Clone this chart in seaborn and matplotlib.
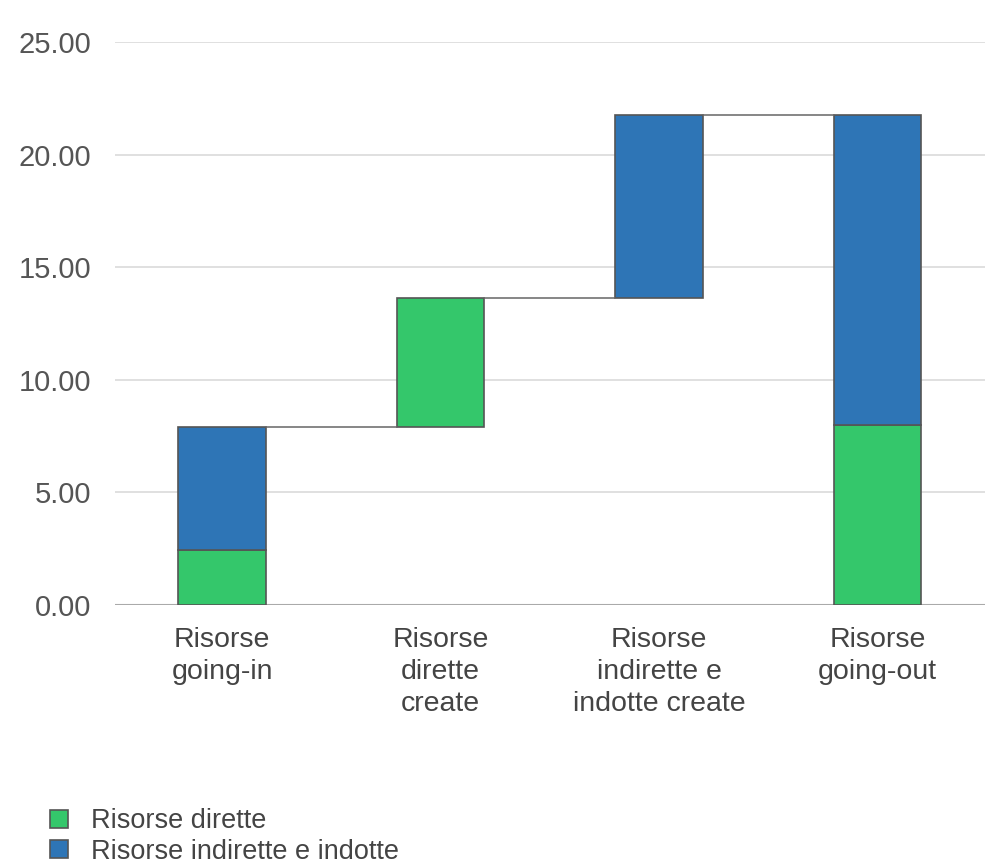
import numpy as np
import pandas as pd
import matplotlib.pyplot as plt
from matplotlib.patches import Patch
import seaborn as sns

# Categories and values
categories = ["Risorse\ngoing-in", "Risorse\ndirette\ncreate",
              "Risorse\nindirette e\nindotte create", "Risorse\ngoing-out"]
seg_category = [categories[0], categories[0], categories[1], categories[2], categories[3], categories[3]]
seg_type = ["Risorse dirette", "Risorse indirette e indotte", "Risorse dirette",
            "Risorse indirette e indotte", "Risorse dirette", "Risorse indirette e indotte"]
seg_start = [0.0, 2.45, 7.9, 13.65, 0.0, 8.0]
seg_end = [2.45, 7.9, 13.65, 21.75, 8.0, 21.75]
connector_levels = [7.9, 13.65, 21.75]
yticks = [0, 5, 10, 15, 20, 25]

colors = {"Risorse dirette": "#34c76b", "Risorse indirette e indotte": "#2e75b6"}

df = pd.DataFrame({"category": seg_category, "type": seg_type,
                   "start": seg_start, "end": seg_end})
df["value"] = df["end"] - df["start"]

sns.set_theme(style="white")
plt.rcParams["font.family"] = ["Liberation Sans", "DejaVu Sans"]

fig = plt.figure(figsize=(9.86, 8.66), dpi=100)
ax = fig.add_axes([0.1166, 0.3014, 0.882, 0.6501])

bar_w = 0.4
for t in colors:
    sub = df[df["type"] == t]
    sns.barplot(data=sub, x="category", y="value", order=categories,
                bottom=sub["start"].to_numpy(), color=colors[t], saturation=1,
                width=bar_w, edgecolor="#555555", linewidth=1.2, ax=ax, zorder=3)

# connectors between consecutive bars
for i, lvl in enumerate(connector_levels):
    ax.plot([i + bar_w / 2, i + 1 - bar_w / 2], [lvl, lvl], color="#666666", lw=1.1, zorder=3)

ax.set_xlim(-0.49, 3.49)
ax.set_ylim(0, 25)
ax.set_yticks(yticks)
ax.set_yticklabels([f"{v:.2f}" for v in yticks])
for v in yticks[1:]:
    ax.axhline(v, color="#dddddd", lw=1.3, zorder=1)
ax.axhline(0, color="#aaaaaa", lw=1.5, zorder=2)

for s in ax.spines.values():
    s.set_visible(False)
ax.set_xlabel("")
ax.set_ylabel("")
ax.tick_params(axis="y", length=0, pad=17, labelsize=21, labelcolor="#555555")
ax.tick_params(axis="x", length=0, pad=16, labelsize=20.5, labelcolor="#444444")
for lab in ax.get_xticklabels():
    lab.set_linespacing(1.3)

handles = [Patch(facecolor=c, edgecolor="#555555", linewidth=1.2, label=t) for t, c in colors.items()]
fig.legend(handles=handles, loc="upper left", bbox_to_anchor=(0.04, 0.079),
           frameon=False, fontsize=19.5, handlelength=0.65, handleheight=0.65,
           handletextpad=0.85, labelspacing=0.16, labelcolor="#444444", borderaxespad=0)

fig.savefig("out.png", dpi=100, facecolor="white")
